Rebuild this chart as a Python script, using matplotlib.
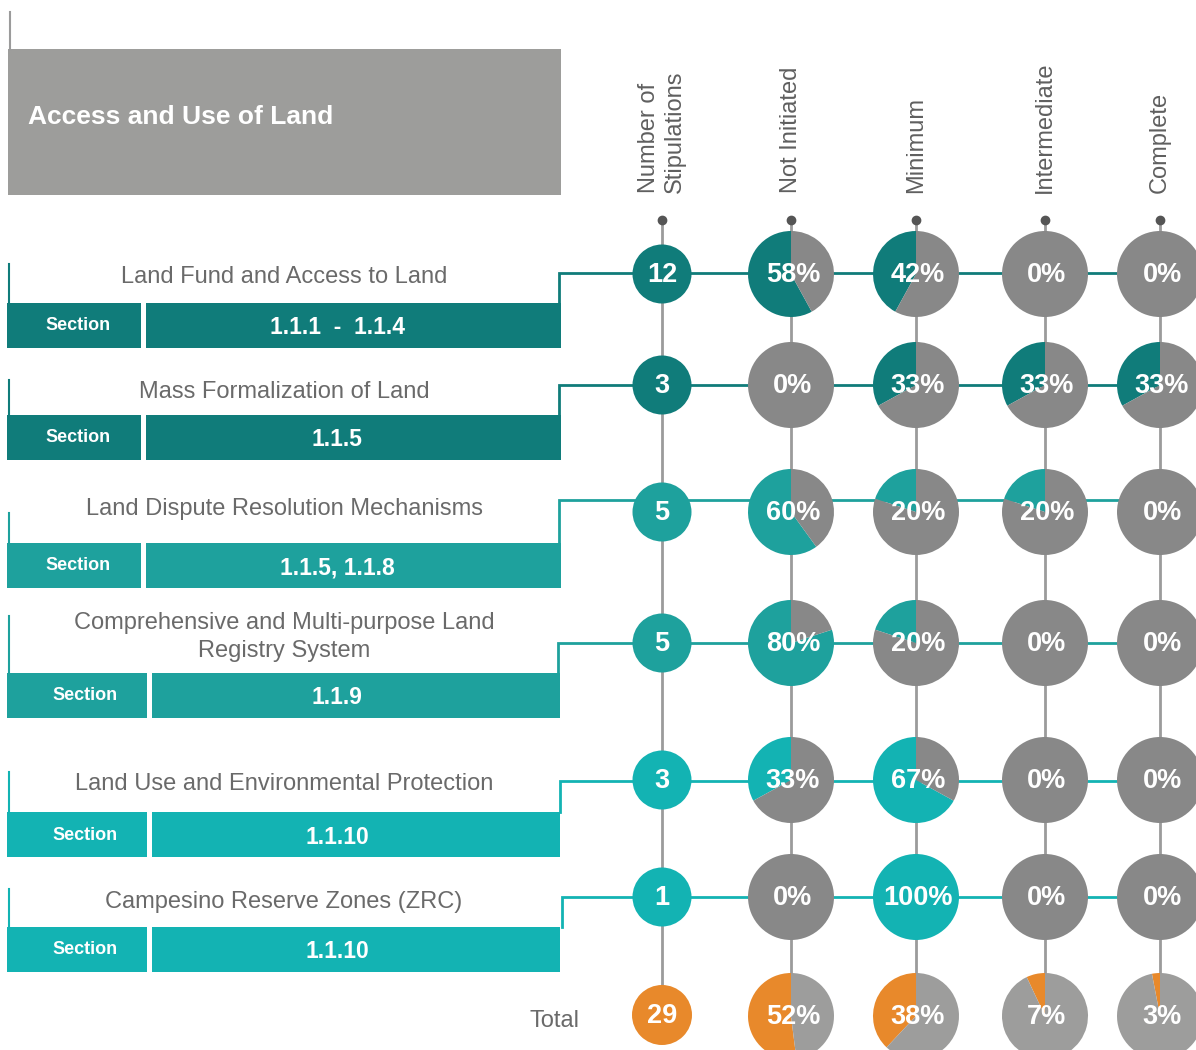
import matplotlib
matplotlib.use("Agg")
import matplotlib.pyplot as plt
from matplotlib.patches import Rectangle, Circle

plt.rcParams['font.family'] = ['Liberation Sans', 'DejaVu Sans']

# data
row_titles = ['Land Fund and Access to Land',
              'Mass Formalization of Land',
              'Land Dispute Resolution Mechanisms',
              'Comprehensive and Multi-purpose Land\nRegistry System',
              'Land Use and Environmental Protection',
              'Campesino Reserve Zones (ZRC)']
section_codes = ['1.1.1  -  1.1.4', '1.1.5', '1.1.5, 1.1.8', '1.1.9', '1.1.10', '1.1.10']
columns = ['Number of\nStipulations', 'Not Initiated', 'Minimum', 'Intermediate', 'Complete']
n_stip = [12, 3, 5, 5, 3, 1]
pct_not_init = [58, 0, 60, 80, 33, 0]
pct_minimum = [42, 33, 20, 20, 67, 100]
pct_intermediate = [0, 33, 20, 0, 0, 0]
pct_complete = [0, 33, 0, 0, 0, 0]
total_stip = 29
total_pct = [52, 38, 7, 3]

# colours
row_colors = ['#107c7a', '#107c7a', '#1ea19d', '#1ea19d', '#13b3b3', '#13b3b3']
pie_gray = '#888888'
tot_gray = '#9d9d9c'
orange = '#e8892b'
txt_gray = '#6a6a6a'

W, H = 1196, 1050
def fy(y):  # layout measured from top of the picture
    return H - y

fig = plt.figure(figsize=(W / 100, H / 100), dpi=100)
ax = fig.add_axes([0, 0, 1, 1])

col_x = [662, 791, 916, 1045, 1160]
row_y = [274, 385, 512, 643, 780, 897]
line_y = [273, 385, 500, 643, 781, 897]
title_y = [277, 392, 509, 637, 784, 902]
title_top = [264, 380, 513, 616, 772, 889]
box_top = [303, 415, 543, 673, 812, 927]
conn_x = [559, 559, 559, 558, 560, 562]
total_y = 1016
pie_r = 43
num_r = 29.5

# header box
ax.plot([9.5, 9.5], [fy(12), fy(49)], color='#9b9b9b', lw=1.5)
ax.add_patch(Rectangle((8, fy(195)), 553, 146, color='#9d9d9b', lw=0))
ax.text(28, fy(117), 'Access and Use of Land', color='white', fontsize=19,
        fontweight='bold', ha='left', va='center')

# column headers, dots and vertical guide lines
for x, name in zip(col_x, columns):
    ax.text(x, fy(193), name, rotation=90, ha='center', va='bottom',
            multialignment='left', fontsize=17, color='#5f5f5f', linespacing=1.25)
    ax.plot([x, x], [fy(220), fy(total_y)], color='#9b9b9b', lw=2, zorder=0.5)
    ax.plot(x, fy(220), 'o', color='#555555', ms=6, zorder=3)

# rows
for i in range(len(row_titles)):
    c = row_colors[i]
    ax.text(284, fy(title_y[i]), row_titles[i], ha='center', va='center',
            fontsize=17, color=txt_gray, linespacing=1.4)
    ax.plot([8.5, 8.5], [fy(title_top[i]), fy(box_top[i])], color=c, lw=1.5)
    if i < 3:
        b1, b2, sx = (7, 141), (146, 561), 78
    else:
        b1, b2, sx = (7, 147), (152, 560), 85
    ax.add_patch(Rectangle((b1[0], fy(box_top[i] + 45)), b1[1] - b1[0], 45, color=c, lw=0))
    ax.add_patch(Rectangle((b2[0], fy(box_top[i] + 45)), b2[1] - b2[0], 45, color=c, lw=0))
    ax.text(sx, fy(box_top[i] + 23), 'Section', color='white',
            fontsize=13, fontweight='bold', ha='center', va='center')
    ax.text(337, fy(box_top[i] + 25), section_codes[i], color='white',
            fontsize=16.5, fontweight='bold', ha='center', va='center')
    # connector
    ax.plot([conn_x[i], conn_x[i], W], [fy(box_top[i]), fy(line_y[i]), fy(line_y[i])],
            color=c, lw=2, zorder=0.6, solid_joinstyle='miter')

    # number of stipulations
    ax.add_patch(Circle((col_x[0], fy(row_y[i])), num_r, color=c, lw=0, zorder=2))
    ax.text(col_x[0], fy(row_y[i] + 1), str(n_stip[i]), color='white', fontsize=19.5,
            fontweight='bold', ha='center', va='center', zorder=4)

    vals = [pct_not_init[i], pct_minimum[i], pct_intermediate[i], pct_complete[i]]
    for x, v in zip(col_x[1:], vals):
        ax.pie([v, 100 - v], colors=[c, pie_gray], startangle=90, counterclock=True,
               center=(x, fy(row_y[i])), radius=pie_r, frame=True,
               wedgeprops={'linewidth': 0, 'zorder': 2})
        ax.text(x + 2, fy(row_y[i] + 1), f'{v}%', color='white', fontsize=19.5,
                fontweight='bold', ha='center', va='center', zorder=4)

# totals
ax.text(580, fy(1021), 'Total', ha='right', va='center', fontsize=17, color=txt_gray)
ax.add_patch(Circle((col_x[0], fy(1015)), 30, color=orange, lw=0, zorder=2))
ax.text(col_x[0], fy(1016), str(total_stip), color='white', fontsize=19.5,
        fontweight='bold', ha='center', va='center', zorder=4)
for x, v in zip(col_x[1:], total_pct):
    ax.pie([v, 100 - v], colors=[orange, tot_gray], startangle=90, counterclock=True,
           center=(x, fy(total_y)), radius=pie_r, frame=True,
           wedgeprops={'linewidth': 0, 'zorder': 2})
    ax.text(x + 2, fy(total_y + 1), f'{v}%', color='white', fontsize=19.5,
            fontweight='bold', ha='center', va='center', zorder=4)

ax.set_xlim(0, W)
ax.set_ylim(0, H)
ax.set_aspect('equal')
ax.axis('off')
fig.savefig('out.png', dpi=100, facecolor='white')
